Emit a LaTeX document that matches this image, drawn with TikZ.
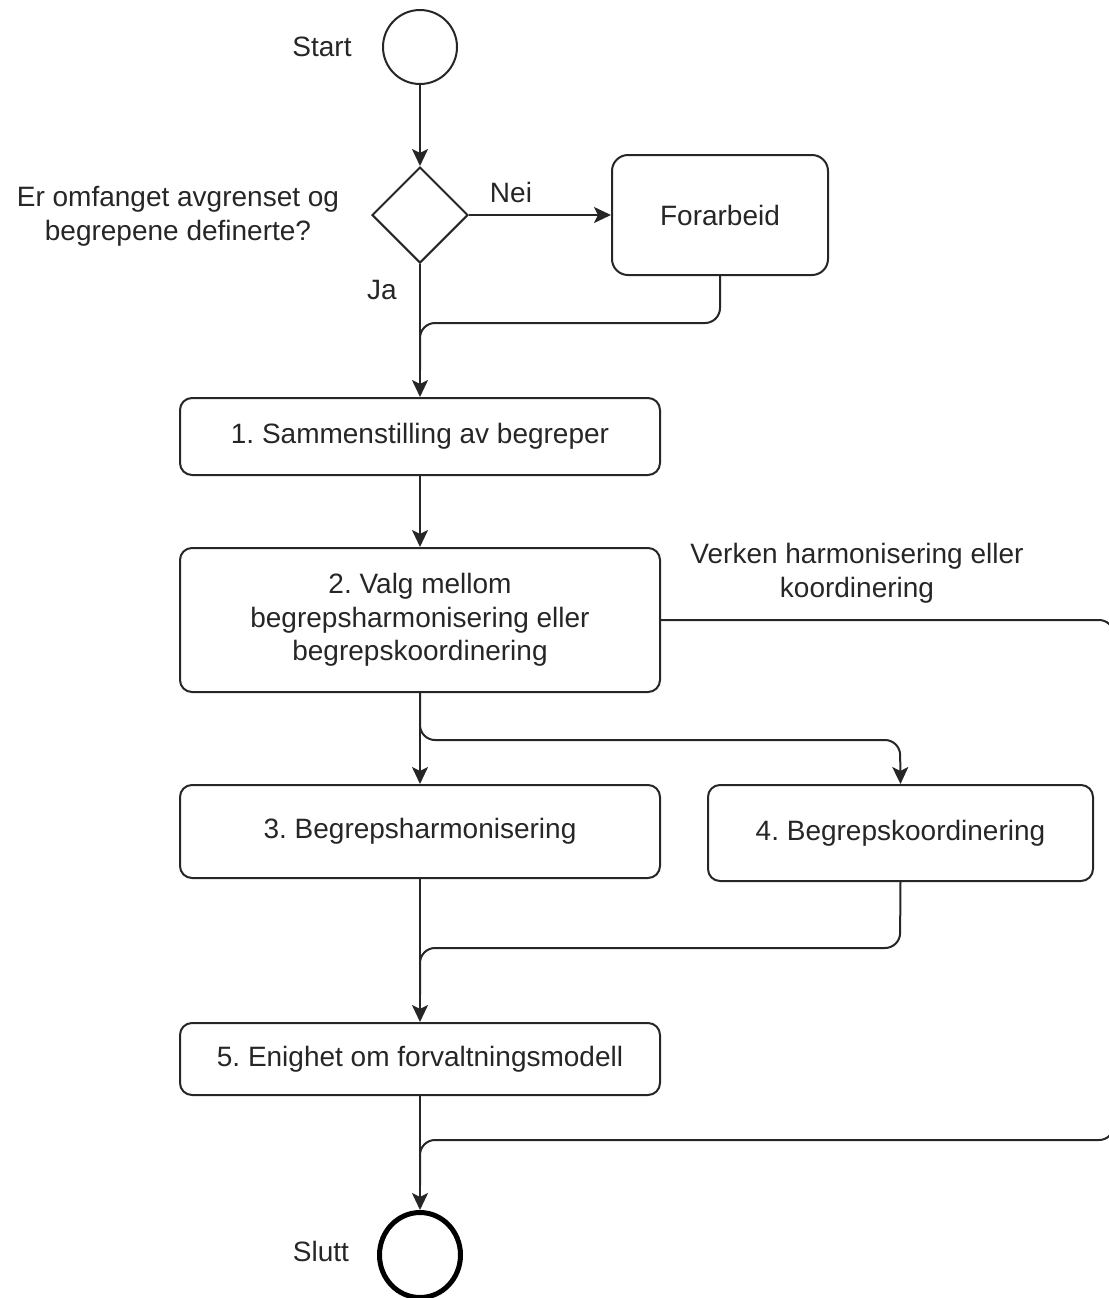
\documentclass[tikz,border=0pt]{standalone}
\usepackage{fontspec}
\setmainfont{Liberation Sans}
\usetikzlibrary{shapes.geometric,arrows.meta}
\begin{document}
\frenchspacing
\begin{tikzpicture}[x=0.5pt,y=-0.5pt,
  font=\fontsize{14}{16.8}\selectfont,
  every node/.style={text=black!85},
  box/.style={draw=black!85,line width=1pt,rounded corners=6pt,align=center,inner sep=0pt,minimum width=240pt},
  line/.style={draw=black!85,line width=1pt,rounded corners=7.5pt},
  arr/.style={line,-{Stealth[length=8.5pt,width=8pt,inset=2pt]}},
  lbl/.style={align=center,inner sep=0pt}]
\useasboundingbox (0,0) rectangle (1109,1298);
% nodes
\node[draw=black!85,line width=1pt,circle,minimum size=37pt,inner sep=0pt] (start) at (420,47) {};
\node[lbl] (startlbl) at (322,47) {Start};
\node[draw=black!85,line width=1pt,diamond,minimum width=48pt,minimum height=48pt,inner sep=0pt] (dia) at (420,215) {};
\node[lbl] (q) at (178,216) {Er omfanget avgrenset og\\begrepene definerte?};
\node[box,minimum width=108pt,minimum height=60pt,rounded corners=8pt] (fa) at (720,215) {Forarbeid};
\node[lbl] (nei) at (511,192) {Nei};
\node[lbl] (ja) at (382,290) {Ja};
\node[box,minimum height=38.5pt] (b1) at (420,436.5) {1. Sammenstilling av begreper};
\node[box,minimum height=72pt] (b2) at (420,620) {2. Valg mellom\\begrepsharmonisering eller\\begrepskoordinering};
\node[lbl] (verken) at (857,573) {Verken harmonisering eller\\koordinering};
\node[box,minimum height=46.5pt] (b3) at (420,831.5) {3. Begrepsharmonisering};
\node[box,minimum width=192.5pt,minimum height=48pt] (b4) at (900.5,833) {4. Begrepskoordinering};
\node[box,minimum height=36pt] (b5) at (420,1059) {5. Enighet om forvaltningsmodell};
\node[draw=black,line width=2.5pt,ellipse,minimum width=40.5pt,minimum height=42.5pt,inner sep=0pt] (slutt) at (420,1255) {};
\node[lbl] (sluttlbl) at (321,1251) {Slutt};
% connectors
\coordinate (c1) at (720,323);
\coordinate (c2) at (420,323);
\coordinate (c3) at (420,370);
\coordinate (d1) at (420,740);
\coordinate (d2) at (900,740);
\coordinate (e1) at (900,948);
\coordinate (e2) at (420,948);
\coordinate (e3) at (420,995);
\coordinate (f1) at (1114,620);
\coordinate (f2) at (1114,1140);
\coordinate (f3) at (420,1140);
\coordinate (f4) at (420,1185);
\draw[arr] (start) -- (dia.north);
\draw[arr] (dia.east) -- (fa.west);
\draw[arr] (dia.south) -- (b1.north);
\draw[line] (fa.south) -- (c1) -- (c2) -- (c3);
\draw[arr] (b1.south) -- (b2.north);
\draw[arr] (b2.south) -- (b3.north);
\draw[arr] (b2.south) -- (d1) -- (d2) -- (b4.north);
\draw[line] (b2.east) -- (f1) -- (f2) -- (f3) -- (f4);
\draw[arr] (b3.south) -- (b5.north);
\draw[line] (b4.south) -- (e1) -- (e2) -- (e3);
\draw[arr] (b5.south) -- (slutt.north);
\end{tikzpicture}
\end{document}
